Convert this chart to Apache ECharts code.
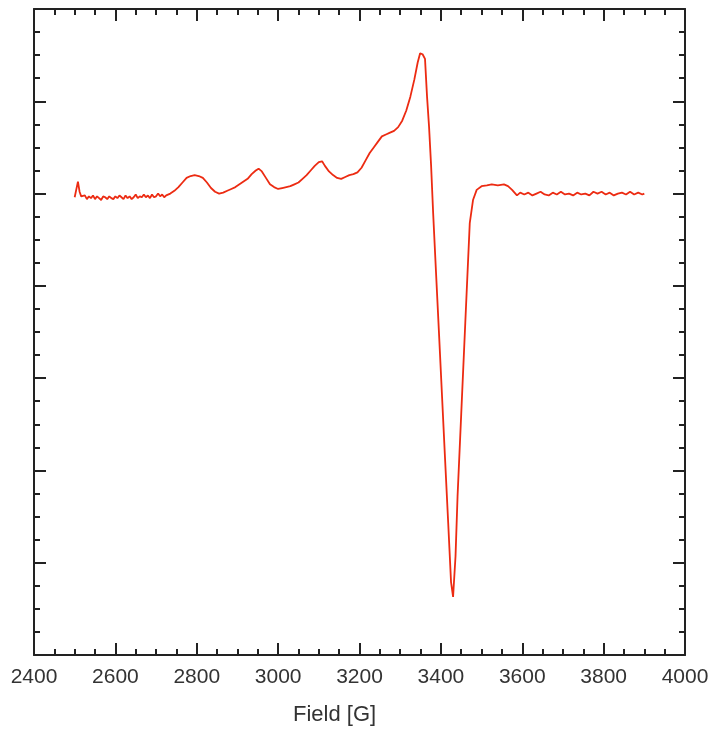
<!DOCTYPE html>
<html lang="en">

<head>
    <meta charset="UTF-8">
    <title>EPR spectrum</title>
    <script src="https://cdn.jsdelivr.net/npm/echarts@6/dist/echarts.min.js"></script>
    <style>
        html, body {
            margin: 0;
            padding: 0;
            background: #fff;
        }
    </style>
</head>

<body>
    <div id="main" style="width:715px;height:741px;"></div>
    <script>
        // magnetic field (G) and signal (arb. units)
        const field = [
            2500, 2504, 2508, 2512, 2516, 2520, 2525, 2530, 2535, 2540,
            2545, 2550, 2555, 2560, 2565, 2570, 2575, 2580, 2585, 2590,
            2595, 2600, 2605, 2610, 2615, 2620, 2625, 2630, 2635, 2640,
            2645, 2650, 2655, 2660, 2665, 2670, 2675, 2680, 2685, 2690,
            2695, 2700, 2705, 2710, 2715, 2720, 2725, 2735, 2745, 2755,
            2765, 2775, 2785, 2795, 2805, 2815, 2825, 2835, 2845, 2855,
            2865, 2875, 2885, 2895, 2905, 2915, 2925, 2935, 2945, 2952,
            2960, 2970, 2980, 2990, 3000, 3010, 3020, 3030, 3040, 3050,
            3060, 3070, 3080, 3090, 3100, 3108, 3115, 3125, 3135, 3145,
            3155, 3165, 3175, 3185, 3195, 3205, 3215, 3225, 3235, 3245,
            3255, 3265, 3275, 3285, 3295, 3305, 3315, 3325, 3335, 3343,
            3349, 3355, 3361, 3366, 3371, 3376, 3381, 3388, 3395, 3403,
            3410, 3418, 3425, 3430, 3436, 3441, 3450, 3460, 3471, 3479,
            3488, 3500, 3513, 3525, 3540, 3555, 3565, 3575, 3587, 3595,
            3605, 3615, 3625, 3635, 3645, 3655, 3665, 3675, 3685, 3695,
            3705, 3715, 3725, 3735, 3745, 3755, 3765, 3775, 3785, 3795,
            3805, 3815, 3825, 3835, 3845, 3855, 3865, 3875, 3885, 3895,
            3900
        ];
        const signal = [
            4.96, 4.97, 5.13, 5.02, 4.97, 4.95, 4.98, 4.94, 4.97, 4.95,
            4.98, 4.94, 4.97, 4.95, 4.93, 4.97, 4.96, 4.94, 4.97, 4.95,
            4.94, 4.97, 4.95, 4.98, 4.96, 4.94, 4.98, 4.95, 4.97, 4.94,
            4.96, 4.99, 4.95, 4.97, 4.96, 4.99, 4.96, 4.98, 4.95, 4.99,
            4.96, 4.97, 5.00, 4.97, 4.99, 4.96, 4.98, 5.00, 5.03, 5.07,
            5.12, 5.17, 5.19, 5.20, 5.19, 5.17, 5.12, 5.06, 5.02, 5.00,
            5.01, 5.03, 5.05, 5.07, 5.10, 5.13, 5.16, 5.21, 5.25, 5.27,
            5.24, 5.17, 5.10, 5.07, 5.05, 5.06, 5.07, 5.08, 5.10, 5.12,
            5.16, 5.20, 5.25, 5.30, 5.34, 5.35, 5.30, 5.24, 5.20, 5.17,
            5.16, 5.18, 5.20, 5.21, 5.23, 5.28, 5.36, 5.44, 5.50, 5.56,
            5.62, 5.64, 5.66, 5.68, 5.72, 5.79, 5.90, 6.05, 6.24, 6.42,
            6.52, 6.51, 6.46, 6.05, 5.72, 5.30, 4.79, 4.15, 3.52, 2.79,
            2.15, 1.43, 0.79, 0.63, 1.07, 1.72, 2.61, 3.60, 4.68, 4.93,
            5.04, 5.08, 5.09, 5.10, 5.09, 5.10, 5.08, 5.04, 4.98, 5.01,
            4.99, 5.01, 4.98, 5.00, 5.02, 4.99, 4.98, 5.01, 4.99, 5.02,
            4.99, 5.00, 4.98, 5.01, 4.99, 5.00, 4.98, 5.02, 5.00, 5.02,
            4.99, 5.01, 4.98, 5.00, 5.01, 4.99, 5.02, 4.99, 5.01, 4.99,
            5.00
        ];

        const xTicks = { min: 2400, max: 4000, interval: 200 };
        const yTicks = { min: 0, max: 7, interval: 1 };

        let chart = echarts.init(document.querySelector('#main'), null, {
            width: 715,
            height: 741
        });

        let frameLine = { show: true, onZero: false, lineStyle: { color: '#222', width: 2 } };
        let majorTick = { show: true, inside: true, length: 12, lineStyle: { color: '#222', width: 2 } };
        let minorTick = { show: true, splitNumber: 4, length: 6, lineStyle: { color: '#222', width: 2 } };

        let option = {
            animation: false,
            backgroundColor: '#fff',
            grid: { left: 34, right: 30, top: 9, bottom: 86 },
            xAxis: [{
                type: 'value',
                position: 'bottom',
                min: xTicks.min,
                max: xTicks.max,
                interval: xTicks.interval,
                axisLine: frameLine,
                axisTick: majorTick,
                minorTick: minorTick,
                splitLine: { show: false },
                axisLabel: {
                    margin: 12,
                    fontSize: 21,
                    color: '#333',
                    fontFamily: 'Liberation Sans, Arial, sans-serif',
                    formatter: v => String(v)
                }
            }, {
                type: 'value',
                position: 'top',
                min: xTicks.min,
                max: xTicks.max,
                interval: xTicks.interval,
                axisLine: frameLine,
                axisTick: majorTick,
                minorTick: minorTick,
                splitLine: { show: false },
                axisLabel: { show: false }
            }],
            yAxis: [{
                type: 'value',
                position: 'left',
                min: yTicks.min,
                max: yTicks.max,
                interval: yTicks.interval,
                axisLine: frameLine,
                axisTick: majorTick,
                minorTick: minorTick,
                splitLine: { show: false },
                axisLabel: { show: false }
            }, {
                type: 'value',
                position: 'right',
                min: yTicks.min,
                max: yTicks.max,
                interval: yTicks.interval,
                axisLine: frameLine,
                axisTick: majorTick,
                minorTick: minorTick,
                splitLine: { show: false },
                axisLabel: { show: false }
            }],
            graphic: [{
                type: 'text',
                left: 293,
                top: 704,
                style: {
                    text: 'Field [G]',
                    fontSize: 22,
                    fill: '#333',
                    fontFamily: 'Liberation Sans, Arial, sans-serif'
                }
            }],
            series: [{
                type: 'line',
                xAxisIndex: 0,
                yAxisIndex: 0,
                data: field.map((f, i) => [f, signal[i]]),
                showSymbol: false,
                symbol: 'none',
                lineStyle: { color: '#ec2b12', width: 1.8 }
            }]
        };
        chart.setOption(option);
    </script>
</body>

</html>
